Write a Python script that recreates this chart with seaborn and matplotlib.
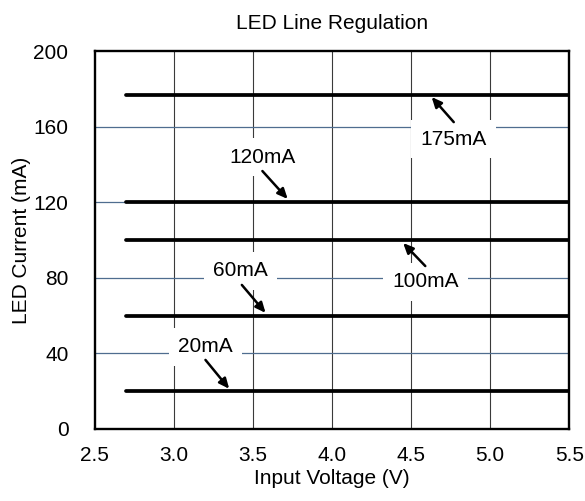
import matplotlib
matplotlib.use("Agg")
import matplotlib.pyplot as plt
import seaborn as sns
import pandas as pd

# data
v_in = [2.7, 5.5]
currents = [20, 60, 100, 120, 176.5]
labels = ["20mA", "60mA", "100mA", "120mA", "175mA"]
label_x = [3.20, 3.42, 4.59, 3.56, 4.77]
label_y = [43.4, 83.6, 77.8, 143.9, 153.4]
arrow_from = [(3.20, 36.5), (3.43, 76.2), (4.59, 86.2), (3.56, 136.5), (4.77, 162.4)]
arrow_to = [(3.35, 21.2), (3.58, 61.4), (4.45, 98.4), (3.72, 121.7), (4.63, 175.7)]

rows = []
for c in currents:
    for v in v_in:
        rows.append({"Input Voltage (V)": v, "LED Current (mA)": c, "set": c})
df = pd.DataFrame(rows)

sns.set_style("white")
plt.rcParams["font.family"] = ["Liberation Sans", "DejaVu Sans"]
plt.rcParams["text.color"] = "black"
plt.rcParams["axes.labelcolor"] = "black"
plt.rcParams["xtick.color"] = "black"
plt.rcParams["ytick.color"] = "black"

fig = plt.figure(figsize=(5.85, 5.01), dpi=100)
ax = fig.add_axes([0.162, 0.144, 0.811, 0.754])

# grid
for x in [3.0, 3.5, 4.0, 4.5, 5.0]:
    ax.axvline(x, color="#3a3a3a", lw=0.8, zorder=1)
for y in [40, 80, 120, 160]:
    ax.axhline(y, color="#4f6d8f", lw=0.9, zorder=1)

sns.lineplot(data=df, x="Input Voltage (V)", y="LED Current (mA)", units="set",
             estimator=None, color="black", lw=2.7, ax=ax, zorder=3)

for lab, tx, ty in zip(labels, label_x, label_y):
    ax.text(tx, ty, lab, ha="center", va="center", fontsize=15, zorder=4,
            bbox=dict(boxstyle="square,pad=0.45", fc="white", ec="none"))
for start, tip in zip(arrow_from, arrow_to):
    ax.annotate("", xy=tip, xytext=start, zorder=5,
                arrowprops=dict(arrowstyle="-|>,head_length=0.6,head_width=0.27",
                                color="black", lw=1.8, shrinkA=0, shrinkB=0))

ax.set_xlim(2.5, 5.5)
ax.set_ylim(0, 200)
ax.set_xticks([2.5, 3.0, 3.5, 4.0, 4.5, 5.0, 5.5])
ax.set_xticklabels(["2.5", "3.0", "3.5", "4.0", "4.5", "5.0", "5.5"])
ax.set_yticks([0, 40, 80, 120, 160, 200])
ax.tick_params(axis="x", length=0, pad=12, labelsize=15)
ax.tick_params(axis="y", length=0, pad=19, labelsize=15)
for s in ax.spines.values():
    s.set_color("black")
    s.set_linewidth(1.7)
    s.set_visible(True)

ax.set_xlabel("Input Voltage (V)", fontsize=15, labelpad=3)
ax.set_ylabel("LED Current (mA)", fontsize=15, labelpad=2)
ax.set_title("LED Line Regulation", fontsize=15, pad=16)

fig.savefig("out.png", dpi=100)
